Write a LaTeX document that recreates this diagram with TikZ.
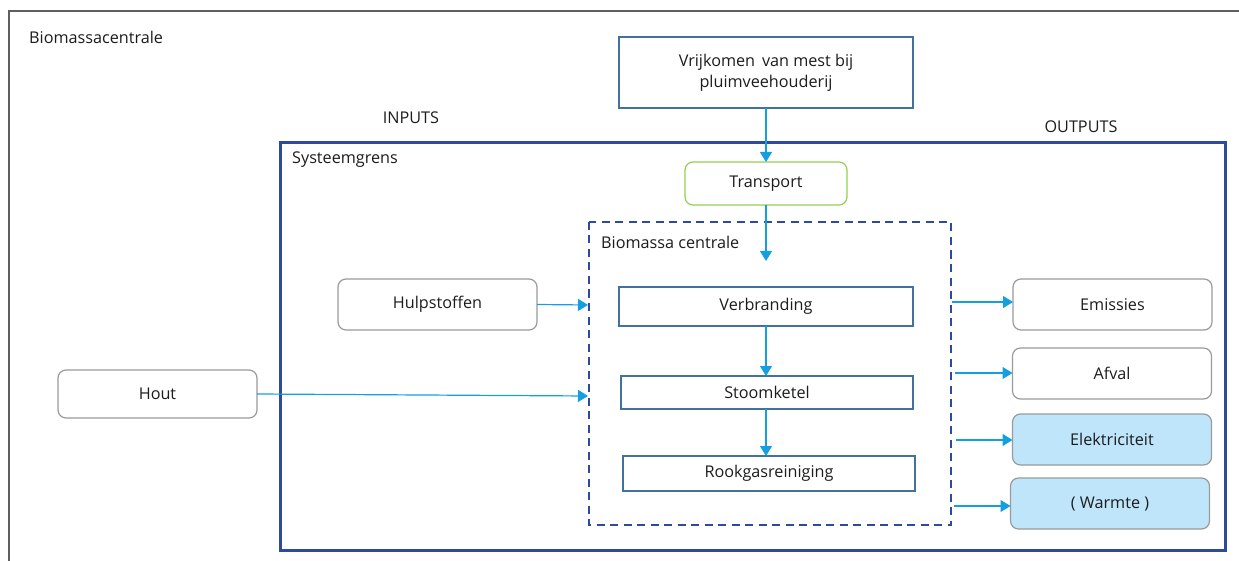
\documentclass[tikz,border=0pt]{standalone}
\usepackage{fontspec}
\setmainfont{Open Sans}
\usetikzlibrary{arrows.meta}
\definecolor{frame}{HTML}{5F5F5F}
\definecolor{navy}{HTML}{2E4A9B}
\definecolor{steel}{HTML}{41719C}
\definecolor{flow}{HTML}{14A0E0}
\definecolor{soft}{HTML}{9A9A9A}
\definecolor{lightfill}{HTML}{BEE5FA}
\definecolor{ink}{HTML}{1C1C1C}
\tikzset{
  txt/.style={font=\fontsize{16.2}{21}\selectfont, text=ink, inner sep=0pt},
  plainbox/.style={txt, draw=steel, line width=1.2pt, align=center, outer sep=0pt},
  roundbox/.style={txt, draw=soft, line width=1.2pt, rounded corners=8pt, outer sep=0pt,
     minimum width=199pt, minimum height=51pt},
  greenbox/.style={txt, draw={rgb,255:red,146;green,208;blue,80}, line width=1.2pt, rounded corners=8pt,
     outer sep=0pt},
  outbox/.style={roundbox, fill=lightfill},
  flowline/.style={draw=flow, line width=1.2pt, -{Triangle[length=10pt,width=12pt]}},
}
\begin{document}
\begin{tikzpicture}[x=1pt, y=-1pt]
\useasboundingbox (0,0) rectangle (1239,561);

% open outer frame
\draw[frame, line width=2pt] (9,561) -- (9,11) -- (1239,11);
\node[txt, anchor=west] (title) at (29,37) {Biomassacentrale};

% system boundary
\draw[navy, line width=3pt] (280,143) rectangle (1225,550);
\node[txt, anchor=west] (sysl) at (292,160) {Systeemgrens};
\node[txt] (inl) at (411,118) {INPUTS};
\node[txt] (outl) at (1081,127) {OUTPUTS};

% plant boundary (dashed)
\draw[navy, line width=2.6pt, dash pattern=on 8pt off 5.5pt] (589,222) rectangle (951,525);
\node[txt, anchor=west] (plantl) at (601,242) {Biomassa centrale};

% source and transport
\node[plainbox, minimum width=294pt, minimum height=71pt] (vrij) at (766,72.5)
  {Vrijkomen\, van mest bij\\pluimveehouderij};
\node[greenbox, minimum width=162pt, minimum height=43pt] (trans) at (766,183.5) {Transport};

% process chain
\node[plainbox, minimum width=294pt, minimum height=39pt] (verb) at (766,306.5) {Verbranding};
\node[plainbox, minimum width=292pt, minimum height=33pt] (stoom) at (767,392.5) {Stoomketel};
\node[plainbox, minimum width=292pt, minimum height=35pt] (rook) at (769,473.5) {Rookgasreiniging};

% inputs
\node[roundbox] (hulp) at (437.5,304.5) {Hulpstoffen};
\node[roundbox, minimum height=48pt] (hout) at (157.5,394) {Hout};

% outputs
\node[roundbox] (emis) at (1112.5,304.5) {Emissies};
\node[roundbox] (afval) at (1112,373.5) {Afval};
\node[outbox] (elek) at (1112,439.5) {Elektriciteit};
\node[outbox] (warm) at (1110,503.5) {( Warmte )};

% free ends on the dashed boundary
\coordinate (inT) at (766,261);
\coordinate (inH) at (588,305);
\coordinate (inW) at (588,396);
\coordinate (oE) at (952,302);
\coordinate (oA) at (955,373);
\coordinate (oK) at (956,440);
\coordinate (oW) at (954,506);

% connectors
\draw[flowline] (vrij.south) -- (trans.north);
\draw[flowline] (trans.south) -- (inT);
\draw[flowline] (verb.south) -- (verb.south |- stoom.north);
\draw[flowline] (stoom.south -| verb.south) -- (verb.south |- rook.north);
\draw[flowline] (hulp.east) -- (inH);
\draw[flowline] (hout.east) -- (inW);
\draw[flowline] (oE) -- (oE -| emis.west);
\draw[flowline] (oA) -- (oA -| afval.west);
\draw[flowline] (oK) -- (oK -| elek.west);
\draw[flowline] (oW) -- (oW -| warm.west);
\end{tikzpicture}
\end{document}
